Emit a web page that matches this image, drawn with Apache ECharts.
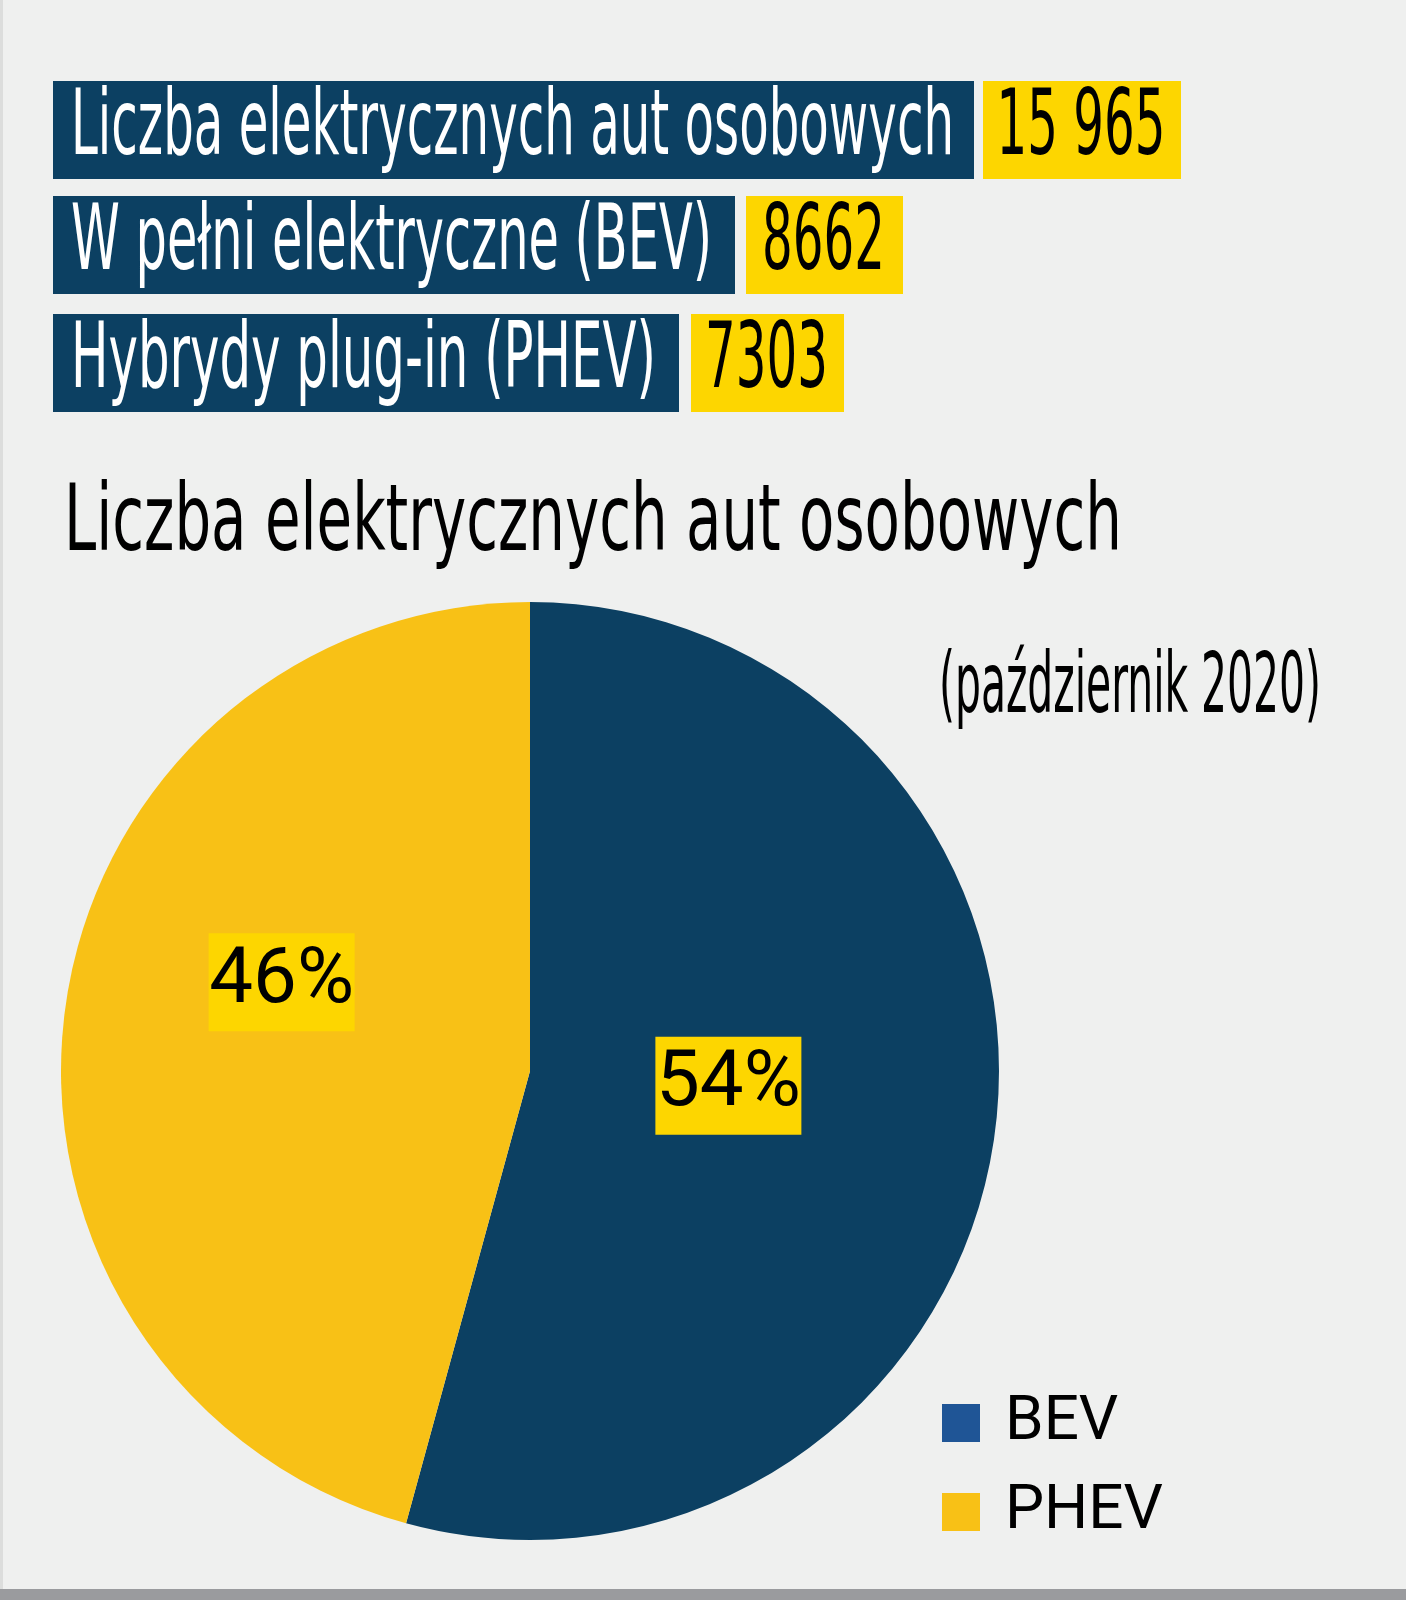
<!DOCTYPE html>
<html>
<head>
<meta charset="utf-8">
<script src="https://cdn.jsdelivr.net/npm/echarts@6/dist/echarts.min.js"></script>
<style>
html,body{margin:0;padding:0;background:#eff0ef;}
#chart{width:1406px;height:1600px;}
</style>
</head>
<body>
<div id="chart"></div>
<script>
// ---- data ----
const categories = ['BEV', 'PHEV'];
const values = [8662, 7303];
const rowLabels = ['Liczba elektrycznych aut osobowych', 'W pełni elektryczne (BEV)', 'Hybrydy plug-in (PHEV)'];
const rowValues = [15965, 8662, 7303];
const chartTitle = 'Liczba elektrycznych aut osobowych';
const chartSubtitle = '(październik 2020)';

// ---- styles ----
const COND = "'DejaVu Sans Condensed'";
const LABELFONT = "Roboto, 'DejaVu Sans Condensed', sans-serif";
const BLUE = '#0c4062';
const YELLOW = '#f8c116';
const BOXY = '#fdd600';

function fmt(n) {
  const s = String(n);
  return n >= 10000 ? s.replace(/\B(?=(\d{3})+(?!\d))/g, ' ') : s;
}
const mctx = document.createElement('canvas').getContext('2d');
function measure(text, size, family) {
  mctx.font = size + 'px ' + family;
  return mctx.measureText(text).width;
}

// banner layout (positions / target text widths only)
const rows = [
  {y: 81, bw: 921, yx: 983, yw: 198, tw: 883},
  {y: 196, bw: 682, yx: 746, yw: 157, tw: 641},
  {y: 314, bw: 626, yx: 691, yw: 153, tw: 585}
];
const bannerFs = 90;
const numScale = 883 / measure(rowLabels[0], bannerFs, COND);

const graphics = [
  {type: 'rect', shape: {x: 0, y: 0, width: 3, height: 1600}, style: {fill: '#dcdddc'}, silent: true},
  {type: 'rect', shape: {x: 0, y: 1589, width: 1406, height: 11}, style: {fill: '#9a9b9e'}, silent: true}
];
rows.forEach((r, i) => {
  const sc = r.tw / measure(rowLabels[i], bannerFs, COND);
  graphics.push({type: 'rect', shape: {x: 53, y: r.y, width: r.bw, height: 98}, style: {fill: BLUE}, silent: true});
  graphics.push({type: 'rect', shape: {x: r.yx, y: r.y, width: r.yw, height: 98}, style: {fill: BOXY}, silent: true});
  graphics.push({type: 'text', x: 71, y: r.y + 50, scaleX: sc,
    style: {text: rowLabels[i], fill: '#ffffff', fontSize: bannerFs, fontFamily: COND, verticalAlign: 'middle', align: 'left'}, silent: true});
  graphics.push({type: 'text', x: r.yx + r.yw / 2 - 1, y: r.y + 50, scaleX: numScale,
    style: {text: fmt(rowValues[i]), fill: '#000000', fontSize: bannerFs, fontFamily: COND, verticalAlign: 'middle', align: 'center'}, silent: true});
});
const titleFs = 92;
const titleScale = 1058 / measure(chartTitle, titleFs, COND);
graphics.push({type: 'text', x: 64, y: 526, scaleX: titleScale,
  style: {text: chartTitle, fill: '#000000', fontSize: titleFs, fontFamily: COND, verticalAlign: 'middle', align: 'left'}, silent: true});
const subFs = 84;
const subScale = 382 / measure(chartSubtitle, subFs, COND);
graphics.push({type: 'text', x: 939, y: 690, scaleX: subScale,
  style: {text: chartSubtitle, fill: '#000000', fontSize: subFs, fontFamily: COND, verticalAlign: 'middle', align: 'left'}, silent: true});

const chart = echarts.init(document.getElementById('chart'), null, {renderer: 'canvas'});
chart.setOption({
  backgroundColor: '#eff0ef',
  animation: false,
  graphic: graphics,
  legend: {
    orient: 'vertical',
    left: 942,
    top: 1392,
    icon: 'rect',
    itemWidth: 38,
    itemHeight: 38,
    itemGap: 27,
    padding: 0,
    selectedMode: false,
    data: [
      {name: categories[0], itemStyle: {color: '#1f5596'}},
      {name: categories[1], itemStyle: {color: YELLOW}}
    ],
    textStyle: {fontSize: 62, fontFamily: LABELFONT, color: '#000', padding: [0, 0, 0, 20]}
  },
  series: [{
    type: 'pie',
    center: [530, 1071],
    radius: [0, 469],
    startAngle: 90,
    clockwise: true,
    silent: true,
    emphasis: {disabled: true},
    labelLine: {show: false},
    color: [BLUE, YELLOW],
    label: {
      show: true,
      position: 'inside',
      formatter: p => Math.round(p.percent) + '%',
      fontSize: 78,
      fontFamily: LABELFONT,
      color: '#000',
      backgroundColor: BOXY,
      lineHeight: 98,
      width: 146,
      overflow: 'none',
      align: 'center',
      padding: 0
    },
    labelLayout: function (p) {
      return p.dataIndex === 0 ? {dx: -37, dy: -17} : {dx: -13, dy: -57};
    },
    data: categories.map((c, i) => ({name: c, value: values[i]}))
  }]
});
</script>
</body>
</html>
